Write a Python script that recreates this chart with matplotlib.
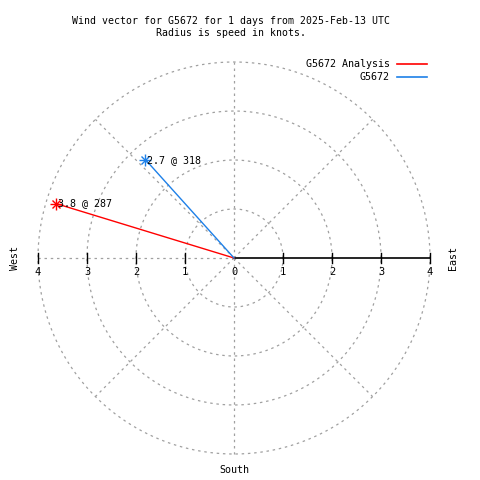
import numpy as np
import matplotlib
matplotlib.use("Agg")
import matplotlib.pyplot as plt
from matplotlib.lines import Line2D

# data: wind speed (knots) and direction (deg, compass)
series = ["G5672 Analysis", "G5672"]
speeds = [3.8, 2.7]
dirs = [287, 318]
colors = ["#ff0000", "#1e80e8"]

rings = [1, 2, 3, 4]
spokes = [0, 45, 90, 135, 180, 225, 270, 315]
ticks = [1, 2, 3, 4]

title = "Wind vector for G5672 for 1 days from 2025-Feb-13 UTC\nRadius is speed in knots."

fs = 7.2
font = "DejaVu Sans Mono"
plt.rcParams['font.family'] = font

fig = plt.figure(figsize=(4.8, 4.8), dpi=100)
ax = fig.add_axes([0, 0, 1, 1])
ax.set_axis_off()
pix = 49.0
cx, cy = 234, 258
ax.set_xlim(-cx / pix, (480 - cx) / pix)
ax.set_ylim(-(480 - cy) / pix, cy / pix)

grid_kw = dict(color="#a0a0a0", lw=0.9, ls=(0, (2, 3)), zorder=1)
th = np.linspace(0, 2 * np.pi, 400)
for r in rings:
    ax.plot(r * np.cos(th), r * np.sin(th), **grid_kw)
rmax = max(rings)
for a in spokes:
    if a == 90:
        continue
    t = np.radians(a)
    ax.plot([0, rmax * np.sin(t)], [0, rmax * np.cos(t)], **grid_kw)

# east axis solid with ticks
ax.plot([0, rmax], [0, 0], color="black", lw=1.2, zorder=2)
tl = 5 / pix
for t in ticks:
    ax.plot([t, t], [-tl, tl], color="black", lw=1.0, zorder=2)
    ax.plot([-t, -t], [-tl, tl], color="black", lw=1.0, zorder=2)
    ax.text(t, -9 / pix, str(t), ha="center", va="top", fontsize=fs + 0.3)
    ax.text(-t, -9 / pix, str(t), ha="center", va="top", fontsize=fs + 0.3)
ax.text(0, -9 / pix, "0", ha="center", va="top", fontsize=fs + 0.3)

ax.text(-219 / pix, 0, "West", rotation=90, ha="center", va="center", fontsize=fs)
ax.text(219 / pix, 0, "East", rotation=90, ha="center", va="center", fontsize=fs)
ax.text(0, -212 / pix, "South", ha="center", va="center", fontsize=fs)

fig.text(0.482, 1 - 27 / 480, title, ha="center", va="center", fontsize=fs - 0.1, linespacing=1.35)

handles = []
for name, s, d, c in zip(series, speeds, dirs, colors):
    t = np.radians(d)
    x, y = s * np.sin(t), s * np.cos(t)
    ax.plot([0, x], [0, y], color=c, lw=1.0, zorder=3)
    ax.plot([x], [y], marker="+", color=c, ms=8, mew=1.0, zorder=4)
    ax.plot([x], [y], marker="x", color=c, ms=6, mew=1.0, zorder=4)
    ax.text(x + 2 / pix, y, "%.1f @ %d" % (s, d), ha="left", va="center", fontsize=fs, zorder=5)
    handles.append(Line2D([], [], color=c, lw=1.2, label=name))

leg = fig.legend(handles=handles, loc="upper right", bbox_to_anchor=(0.9, 1 - 54 / 480),
                 frameon=False, markerfirst=False, fontsize=fs, handlelength=3.0,
                 handletextpad=0.7, labelspacing=0.3, borderpad=0, alignment="right")

fig.savefig("out.png", dpi=100)
